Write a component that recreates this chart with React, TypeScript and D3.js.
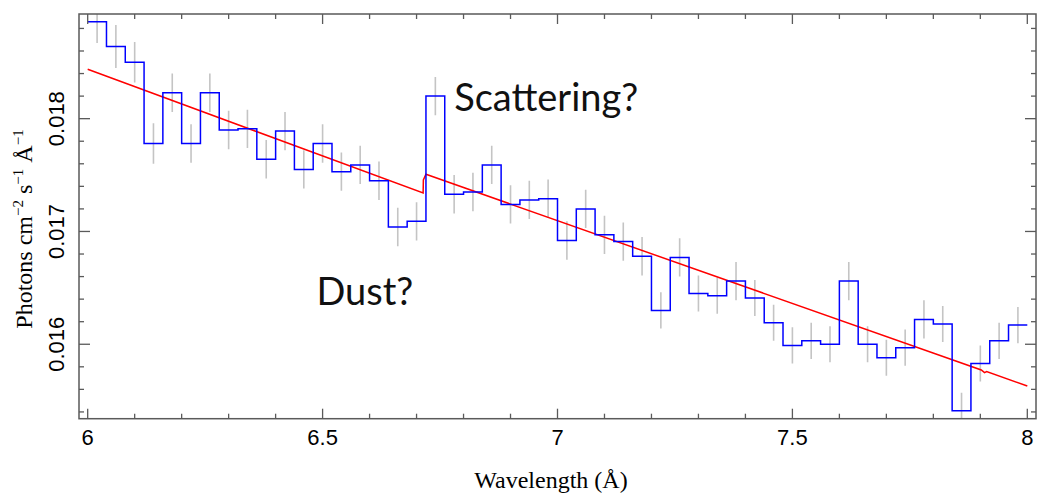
import React, { useEffect, useRef } from "react";
import * as d3 from "d3";

// bin start wavelengths (Å), bin width 0.04
const binStarts = [
  6.00, 6.04, 6.08, 6.12, 6.16, 6.20, 6.24, 6.28, 6.32, 6.36,
  6.40, 6.44, 6.48, 6.52, 6.56, 6.60, 6.64, 6.68, 6.72, 6.76,
  6.80, 6.84, 6.88, 6.92, 6.96, 7.00, 7.04, 7.08, 7.12, 7.16,
  7.20, 7.24, 7.28, 7.32, 7.36, 7.40, 7.44, 7.48, 7.52, 7.56,
  7.60, 7.64, 7.68, 7.72, 7.76, 7.80, 7.84, 7.88, 7.92, 7.96,
];
const binWidth = 0.04;

// measured flux (photons cm^-2 s^-1 Å^-1)
const flux = [
  0.01886, 0.01864, 0.01850, 0.01778, 0.01823, 0.01778, 0.01823, 0.01790, 0.01791, 0.01764,
  0.01789, 0.01755, 0.01778, 0.01753, 0.01759, 0.01745, 0.01704, 0.01709, 0.01820, 0.01733,
  0.01735, 0.01759, 0.01724, 0.01728, 0.01729, 0.01692, 0.01720, 0.01697, 0.01691, 0.01678,
  0.01630, 0.01677, 0.01645, 0.01643, 0.01656, 0.01641, 0.01619, 0.01599, 0.01603, 0.01600,
  0.01656, 0.01600, 0.01588, 0.01597, 0.01622, 0.01618, 0.01541, 0.01583, 0.01603, 0.01617,
];

// 1-sigma errors
const fluxErr = [
  0.00019, 0.00019, 0.00018, 0.00018, 0.00017, 0.00017, 0.00017, 0.00017, 0.00017, 0.00017,
  0.00017, 0.00017, 0.00017, 0.00017, 0.00017, 0.00017, 0.00017, 0.00017, 0.00017, 0.00017,
  0.00017, 0.00017, 0.00017, 0.00017, 0.00017, 0.00017, 0.00017, 0.00017, 0.00017, 0.00017,
  0.00016, 0.00017, 0.00016, 0.00016, 0.00017, 0.00016, 0.00016, 0.00016, 0.00016, 0.00016,
  0.00017, 0.00016, 0.00016, 0.00016, 0.00017, 0.00016, 0.00016, 0.00016, 0.00016, 0.00016,
];

// model continuum
const modelWave = [6.0, 6.714, 6.7145, 6.72, 7.902, 7.909, 7.9134, 8.0];
const modelFlux = [0.018438, 0.017341, 0.017457, 0.017507, 0.015772, 0.015748, 0.015757, 0.015630];

const xTicksMajor = [6, 6.5, 7, 7.5, 8];
const xTickLabels = ["6", "6.5", "7", "7.5", "8"];
const yTicksMajor = [0.016, 0.017, 0.018];
const yTickLabels = ["0.016", "0.017", "0.018"];

const annotations = [
  { text: "Scattering?", wave: 6.78, flux: 0.01807 },
  { text: "Dust?", wave: 6.487, flux: 0.01635 },
];

function SpectrumChart() {
  const ref = useRef(null);

  useEffect(() => {
    const width = 1037;
    const height = 493;
    const left = 79, right = 1036, top = 14, bottom = 418.7;

    d3.select(ref.current).selectAll("*").remove();
    const svg = d3.select(ref.current)
      .attr("width", width)
      .attr("height", height)
      .attr("viewBox", [0, 0, width, height]);

    const x = d3.scaleLinear([5.9815, 8.0185], [left, right]);
    const y = d3.scaleLinear([0.01534, 0.018928], [bottom, top]);

    svg.append("defs").append("clipPath").attr("id", "plot-clip")
      .append("rect")
      .attr("x", left).attr("y", top)
      .attr("width", right - left).attr("height", bottom - top);

    const plot = svg.append("g").attr("clip-path", "url(#plot-clip)");

    const bins = binStarts.map((b, i) => ({ x0: b, v: flux[i], e: fluxErr[i] }));

    // error bars
    plot.selectAll(".err")
      .data(bins)
      .enter()
      .append("line")
      .attr("x1", d => x(d.x0 + binWidth / 2))
      .attr("x2", d => x(d.x0 + binWidth / 2))
      .attr("y1", d => y(d.v - d.e))
      .attr("y2", d => y(d.v + d.e))
      .attr("stroke", "#c4c4c4")
      .attr("stroke-width", 1.6);

    // model
    const model = modelWave.map((w, i) => [w, modelFlux[i]]);
    plot.append("path")
      .attr("fill", "none")
      .attr("stroke", "#ff0000")
      .attr("stroke-width", 1.5)
      .attr("d", d3.line().x(d => x(d[0])).y(d => y(d[1]))(model));

    // data histogram
    const stepPts = bins.map(d => [d.x0, d.v]);
    stepPts.push([binStarts[binStarts.length - 1] + binWidth, flux[flux.length - 1]]);
    plot.append("path")
      .attr("fill", "none")
      .attr("stroke", "#0000ff")
      .attr("stroke-width", 1.5)
      .attr("d", d3.line().curve(d3.curveStepAfter).x(d => x(d[0])).y(d => y(d[1]))(stepPts));

    // frame
    const axisColor = "#5a5a5a";
    svg.append("rect")
      .attr("x", left).attr("y", top)
      .attr("width", right - left).attr("height", bottom - top)
      .attr("fill", "none")
      .attr("stroke", axisColor)
      .attr("stroke-width", 1.5);

    const xMinor = d3.range(60, 81).map(v => v / 10).filter(v => !xTicksMajor.includes(v));
    const yMinor = d3.range(77, 95).map(v => v / 5000).filter(v => !yTicksMajor.some(m => Math.abs(m - v) < 1e-9));

    const ticks = svg.append("g").attr("stroke", axisColor).attr("stroke-width", 1.3);
    const xt = [...xMinor.map(v => ({ v, l: 5 })), ...xTicksMajor.map(v => ({ v, l: 10 }))];
    xt.forEach(t => {
      ticks.append("line").attr("x1", x(t.v)).attr("x2", x(t.v)).attr("y1", bottom).attr("y2", bottom - t.l);
      ticks.append("line").attr("x1", x(t.v)).attr("x2", x(t.v)).attr("y1", top).attr("y2", top + t.l);
    });
    const yt = [...yMinor.map(v => ({ v, l: 5 })), ...yTicksMajor.map(v => ({ v, l: 11 }))];
    yt.forEach(t => {
      ticks.append("line").attr("y1", y(t.v)).attr("y2", y(t.v)).attr("x1", left).attr("x2", left + t.l);
      ticks.append("line").attr("y1", y(t.v)).attr("y2", y(t.v)).attr("x1", right).attr("x2", right - t.l);
    });

    // tick labels
    svg.append("g")
      .selectAll("text")
      .data(xTicksMajor)
      .enter()
      .append("text")
      .attr("x", d => x(d))
      .attr("y", 445)
      .attr("text-anchor", "middle")
      .attr("font-family", "Liberation Sans, Arial, sans-serif")
      .attr("font-size", 22)
      .text((d, i) => xTickLabels[i]);

    svg.append("g")
      .selectAll("text")
      .data(yTicksMajor)
      .enter()
      .append("text")
      .attr("transform", d => `translate(64,${y(d)}) rotate(-90)`)
      .attr("text-anchor", "middle")
      .attr("font-family", "Liberation Sans, Arial, sans-serif")
      .attr("font-size", 22)
      .text((d, i) => yTickLabels[i]);

    // axis titles
    svg.append("text")
      .attr("x", 551)
      .attr("y", 488)
      .attr("text-anchor", "middle")
      .attr("font-family", "Liberation Serif, Times New Roman, serif")
      .attr("font-size", 24)
      .text("Wavelength (Å)");

    const yl = svg.append("text")
      .attr("transform", "translate(32,229) rotate(-90)")
      .attr("text-anchor", "middle")
      .attr("font-family", "Liberation Serif, Times New Roman, serif")
      .attr("font-size", 24);
    yl.append("tspan").text("Photons cm");
    yl.append("tspan").attr("dy", -9).attr("font-size", 15).text("−2");
    yl.append("tspan").attr("dy", 9).text(" s");
    yl.append("tspan").attr("dy", -9).attr("font-size", 15).text("−1");
    yl.append("tspan").attr("dy", 9).text(" Å");
    yl.append("tspan").attr("dy", -9).attr("font-size", 15).text("−1");

    // annotations
    svg.append("g")
      .selectAll("text")
      .data(annotations)
      .enter()
      .append("text")
      .attr("x", d => x(d.wave))
      .attr("y", d => y(d.flux))
      .attr("font-family", "Lato, Open Sans, sans-serif")
      .attr("font-size", 38)
      .attr("fill", "#111")
      .text(d => d.text);
  }, []);

  return <svg ref={ref} style={{ position: "absolute", left: 0, top: 0 }} />;
}

export default function App() {
  return <SpectrumChart />;
}
